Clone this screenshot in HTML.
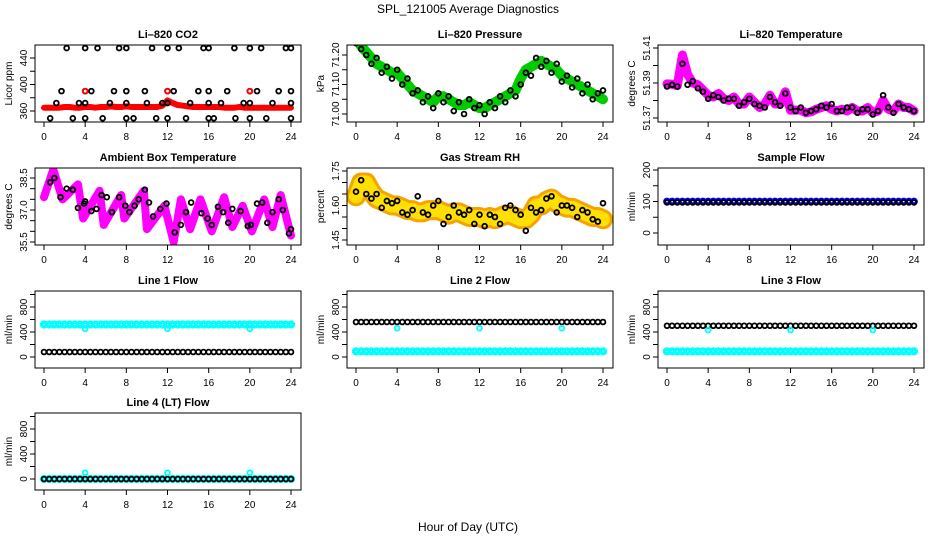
<!DOCTYPE html>
<html><head><meta charset="utf-8"><style>
body{margin:0;background:#fff;}
svg{display:block;font-family:"Liberation Sans",sans-serif;}
</style></head><body>
<svg id="c" width="936" height="540" viewBox="0 0 936 540">
<text x="468" y="13" text-anchor="middle" font-size="12">SPL_121005  Average Diagnostics</text>
<text x="468" y="531" text-anchor="middle" font-size="12">Hour of Day (UTC)</text>
</svg>
<script>
const hours=[0,0.5,1,1.5,2,2.5,3,3.5,4,4.5,5,5.5,6,6.5,7,7.5,8,8.5,9,9.5,10,10.5,11,11.5,12,12.5,13,13.5,14,14.5,15,15.5,16,16.5,17,17.5,18,18.5,19,19.5,20,20.5,21,21.5,22,22.5,23,23.5,24];
const xTicks=[0,4,8,12,16,20,24];
const co2Red=[365,365,365,365,366,366,365,365,366,366,365,366,366,367,366,366,367,366,366,366,366,366,366,368,376,372,369,368,367,366,366,366,366,366,366,365,365,365,366,365,365,365,365,365,365,365,365,365,365];
const co2PtH=[2.2,4,5.2,7.3,8,10.5,12,13.1,15.5,16,18.5,20,21.1,23.5,24,1.7,4,4.6,6.8,8,9.8,12,12.6,15,16,17.8,20,20.7,22.8,24,1.2,3.4,4,6.4,8,10,11.5,12,14.2,16,17.2,19.4,20,22.2,24,0.6,2.8,4,5.7,8,8.7,10.9,12,13.8,16,16.5,18.6,20,21.6,24];
const co2PtV=[455,455,455,455,455,455,455,455,455,455,455,455,455,455,455,390,390,390,390,390,390,390,390,390,390,390,390,390,390,390,372,372,372,372,372,372,372,372,372,372,372,372,372,372,372,349,349,349,349,349,349,349,349,349,349,349,349,349,349,349];
const co2RedPtH=[4,12,20];
const co2RedPtV=[390,390,390];
const presGreen=[71.26,71.23,71.21,71.19,71.17,71.16,71.15,71.14,71.14,71.12,71.10,71.08,71.07,71.06,71.05,71.04,71.06,71.06,71.05,71.04,71.03,71.03,71.04,71.03,71.02,71.02,71.03,71.04,71.05,71.06,71.07,71.08,71.12,71.15,71.16,71.17,71.18,71.17,71.16,71.15,71.13,71.12,71.11,71.10,71.09,71.08,71.07,71.06,71.05];
const presPts=[71.24,71.22,71.20,71.17,71.19,71.14,71.16,71.12,71.15,71.10,71.12,71.07,71.08,71.04,71.06,71.02,71.07,71.04,71.06,71.01,71.04,71.00,71.05,71.02,71.03,71.00,71.04,71.02,71.06,71.04,71.08,71.06,71.10,71.14,71.13,71.19,71.16,71.18,71.14,71.17,71.11,71.13,71.09,71.12,71.07,71.10,71.05,71.07,71.08];
const tempMag=[51.3895,51.3893,51.3885,51.4060,51.3950,51.3900,51.3890,51.3860,51.3830,51.3820,51.3840,51.3810,51.3800,51.3820,51.3780,51.3780,51.3820,51.3790,51.3760,51.3780,51.3830,51.3780,51.3780,51.3850,51.3745,51.3745,51.3745,51.3730,51.3735,51.3750,51.3760,51.3770,51.3750,51.3740,51.3750,51.3740,51.3760,51.3740,51.3740,51.3760,51.3730,51.3740,51.3800,51.3750,51.3740,51.3780,51.3760,51.3760,51.3740];
const tempPts=[51.3880,51.3890,51.3880,51.4010,51.3890,51.3910,51.3870,51.3850,51.3810,51.3830,51.3820,51.3800,51.3810,51.3810,51.3770,51.3790,51.3810,51.3780,51.3770,51.3760,51.3820,51.3790,51.3770,51.3840,51.3760,51.3740,51.3760,51.3730,51.3740,51.3750,51.3770,51.3760,51.3780,51.3740,51.3740,51.3760,51.3760,51.3730,51.3750,51.3750,51.3720,51.3740,51.3830,51.3760,51.3730,51.3780,51.3760,51.3750,51.3740];
const ambH=[0,0.9,1.8,3.3,3.8,5.4,5.8,7.5,7.8,9.7,10,11.7,12.6,13.3,14.2,15.2,16.3,17.5,18.3,19.3,20.2,21.4,22.2,23,24];
const ambV=[37.6,38.9,37.5,38.2,36.6,37.9,36.3,37.7,36.6,37.9,36.1,37.2,35.5,37.5,36.1,37.5,36.0,37.6,36.2,37.2,36.0,37.5,36.2,37.7,35.8];
const ambPtH=[0.6,1,1.6,2.2,2.8,3.3,3.9,4,4.6,5.1,5.6,6.1,6.6,7.3,7.9,8.3,8.8,9.2,9.8,10.2,10.6,11.3,11.9,12.7,13.3,13.8,14.3,15.3,15.9,16.3,16.9,17.4,17.9,18.3,19.1,19.8,20.1,20.7,21.2,21.7,22.2,22.8,23.2,23.8,24];
const ambPtV=[38.3,38.5,37.6,38.0,37.95,37.1,37.3,37.4,36.95,37.05,37.7,37.6,36.9,37.6,37.2,36.9,37.2,37.5,37.95,37.35,36.7,37.05,37.3,35.95,36.3,36.9,37.35,36.85,36.6,36.3,37.15,36.9,36.4,37.05,36.95,36.25,36.3,37.3,37.35,36.4,36.9,37.5,37.0,35.9,36.1];
const rhBand=[1.64,1.70,1.70,1.66,1.63,1.62,1.61,1.60,1.60,1.59,1.58,1.58,1.57,1.57,1.58,1.58,1.58,1.57,1.56,1.57,1.57,1.56,1.55,1.55,1.55,1.54,1.55,1.54,1.55,1.56,1.56,1.55,1.54,1.54,1.56,1.60,1.60,1.62,1.63,1.61,1.60,1.59,1.59,1.58,1.57,1.56,1.55,1.55,1.54];
const rhPts=[1.66,1.71,1.65,1.63,1.65,1.59,1.62,1.61,1.62,1.57,1.56,1.58,1.64,1.57,1.56,1.60,1.62,1.52,1.55,1.60,1.57,1.56,1.58,1.52,1.56,1.51,1.56,1.55,1.52,1.59,1.60,1.58,1.56,1.49,1.59,1.57,1.58,1.63,1.64,1.57,1.60,1.60,1.59,1.55,1.58,1.57,1.54,1.53,1.61];
const sampleBlue=[100];
const sampleBlack=[97];
const l1Cyan=[520], l1Black=[80];
const l2Black=[560], l2Cyan=[90];
const l3Black=[500], l3Cyan=[90];
const l4Black=[0], l4Cyan=[0];
const dipH=[4,12,20];
const l1Dip=[450], l2Dip=[460], l3Dip=[430], l4Dip=[100];

const svg=document.getElementById('c');
const NS='http://www.w3.org/2000/svg';
function mk(tag,attrs,parent){const e=document.createElementNS(NS,tag);for(const k in attrs)e.setAttribute(k,attrs[k]);(parent||svg).appendChild(e);return e;}
const colX=[35,347,658], rowY=[45,168,291,413], BW=266, BH=77;
function panel(c,r,o){
  const g=mk('g',{});
  
  
  const L=colX[c],T=rowY[r],B=T+BH,R=L+BW,x0=L+9;
  const sx=h=>x0+h/24*247;
  const [v1,p1,v2,p2]=o.ymap;
  const sy=v=>T+p1+(v-v1)*(p2-p1)/(v2-v1);
  const t=mk('text',{x:(L+R)/2,y:T-7,'text-anchor':'middle','font-size':11,'font-weight':'bold'},g);t.textContent=o.title;
  
  
  const yl=mk('text',{transform:`translate(${L-23},${(T+B)/2}) rotate(-90)`,'text-anchor':'middle','font-size':10},g);yl.textContent=o.ylab;
  
  
  const xa=mk('g',{},g);
  
  
  mk('line',{x1:sx(0),x2:sx(24),y1:B,y2:B,stroke:'#000'},xa);
  xTicks.forEach(h=>{mk('line',{x1:sx(h),x2:sx(h),y1:B,y2:B+5,stroke:'#000'},xa);
    const tt=mk('text',{x:sx(h),y:B+18,'text-anchor':'middle','font-size':10},xa);tt.textContent=h;});
  const ya=mk('g',{},g);
  
  
  const yt=o.yticks;
  mk('line',{x1:L,x2:L,y1:sy(yt[0]),y2:sy(yt[yt.length-1]),stroke:'#000'},ya);
  yt.forEach((v,i)=>{mk('line',{x1:L-5,x2:L,y1:sy(v),y2:sy(v),stroke:'#000'},ya);
    if(o.ylabels[i]!==''){const tt=mk('text',{transform:`translate(${L-8},${sy(v)}) rotate(-90)`,'text-anchor':'middle','font-size':10},ya);tt.textContent=o.ylabels[i];}});
  const clipId='cl'+c+r;
  const cp=mk('clipPath',{id:clipId},g);mk('rect',{x:L,y:T,width:BW,height:BH},cp);
  const plot=mk('g',{'clip-path':`url(#${clipId})`},g);
  o.draw(plot,sx,sy);
  mk('rect',{x:L,y:T,width:BW,height:BH,fill:'none',stroke:'#000'},g);
}
function band(p,sx,sy,H,V,col,w,name){const pts=H.map((h,i)=>sx(h)+','+sy(V[i])).join(' ');
  const e=mk('polyline',{points:pts,fill:'none',stroke:col,'stroke-width':w,'stroke-linejoin':'round','stroke-linecap':'round'},p);
  
  return e;}
function pts(p,sx,sy,H,V,col,name,r){const g=mk('g',{},p);
  
  
  H.forEach((h,i)=>mk('circle',{cx:sx(h),cy:sy(V[i]),r:r||2.4,fill:'none',stroke:col,'stroke-width':1.8},g));}
function level(p,sx,sy,v,col,name,w){const g=mk('g',{},p);
  
  
  hours.forEach(h=>mk('circle',{cx:sx(h),cy:sy(v),r:2.4,fill:'none',stroke:col,'stroke-width':w||1.8},g));}

panel(0,0,{name:'co2',title:'Li\u2013820 CO2',ylab:'Licor ppm',ymap:[360,66,440,13],yticks:[360,380,400,420,440],ylabels:['360','','400','','440'],
 draw:(p,sx,sy)=>{band(p,sx,sy,hours,co2Red,'#f00',6,'co2-line');pts(p,sx,sy,co2PtH,co2PtV,'#000','co2-points');pts(p,sx,sy,co2RedPtH,co2RedPtV,'#f00','co2-red-points');}});
panel(1,0,{name:'pressure',title:'Li\u2013820 Pressure',ylab:'kPa',ymap:[71.20,10,71.00,69],yticks:[71.00,71.05,71.10,71.15,71.20],ylabels:['71.00','','71.10','','71.20'],
 draw:(p,sx,sy)=>{band(p,sx,sy,hours,presGreen,'#0c0',10,'pressure-band');pts(p,sx,sy,hours,presPts,'#000','pressure-points');}});
panel(2,0,{name:'temperature',title:'Li\u2013820 Temperature',ylab:'degrees C',ymap:[51.41,3,51.37,73],yticks:[51.37,51.38,51.39,51.40,51.41],ylabels:['51.37','','51.39','','51.41'],
 draw:(p,sx,sy)=>{band(p,sx,sy,hours,tempMag,'#f0f',9,'temperature-band');pts(p,sx,sy,hours,tempPts,'#000','temperature-points');}});
panel(0,1,{name:'ambient',title:'Ambient Box Temperature',ylab:'degrees C',ymap:[38.5,10,35.5,74],yticks:[35.5,36.0,36.5,37.0,37.5,38.0,38.5],ylabels:['35.5','','','37.0','','','38.5'],
 draw:(p,sx,sy)=>{band(p,sx,sy,ambH,ambV,'#f0f',8,'ambient-band');pts(p,sx,sy,ambPtH,ambPtV,'#000','ambient-points');}});
panel(1,1,{name:'rh',title:'Gas Stream RH',ylab:'percent',ymap:[1.75,3,1.45,72],yticks:[1.45,1.50,1.55,1.60,1.65,1.70,1.75],ylabels:['1.45','','','1.60','','','1.75'],
 draw:(p,sx,sy)=>{band(p,sx,sy,hours,rhBand,'#f5a300',20,'rh-band');const y=band(p,sx,sy,hours,rhBand,'#ffe000',14,'rh-band-inner');y.setAttribute('stroke-dasharray','2 2');pts(p,sx,sy,hours,rhPts,'#000','rh-points');}});
panel(2,1,{name:'sample-flow',title:'Sample Flow',ylab:'ml/min',ymap:[200,2,0,65],yticks:[0,50,100,150,200],ylabels:['0','','100','','200'],
 draw:(p,sx,sy)=>{level(p,sx,sy,sampleBlue[0],'#00f','sample-flow-blue',3);level(p,sx,sy,sampleBlack[0],'#000','sample-flow-black');}});
const fm=[800,16,0,66], ft=[0,200,400,600,800,1000], fl=['0','','400','','800',''];
panel(0,2,{name:'line1-flow',title:'Line 1 Flow',ylab:'ml/min',ymap:fm,yticks:ft,ylabels:fl,
 draw:(p,sx,sy)=>{level(p,sx,sy,l1Cyan[0],'#0ff','line1-cyan',3.5);level(p,sx,sy,l1Black[0],'#000','line1-black');pts(p,sx,sy,dipH,[l1Dip[0],l1Dip[0],l1Dip[0]],'#0ff','line1-dips');}});
panel(1,2,{name:'line2-flow',title:'Line 2 Flow',ylab:'ml/min',ymap:fm,yticks:ft,ylabels:fl,
 draw:(p,sx,sy)=>{level(p,sx,sy,l2Cyan[0],'#0ff','line2-cyan',3.5);level(p,sx,sy,l2Black[0],'#000','line2-black');pts(p,sx,sy,dipH,[l2Dip[0],l2Dip[0],l2Dip[0]],'#0ff','line2-dips');}});
panel(2,2,{name:'line3-flow',title:'Line 3 Flow',ylab:'ml/min',ymap:fm,yticks:ft,ylabels:fl,
 draw:(p,sx,sy)=>{level(p,sx,sy,l3Cyan[0],'#0ff','line3-cyan',3.5);level(p,sx,sy,l3Black[0],'#000','line3-black');pts(p,sx,sy,dipH,[l3Dip[0],l3Dip[0],l3Dip[0]],'#0ff','line3-dips');}});
panel(0,3,{name:'line4-flow',title:'Line 4 (LT) Flow',ylab:'ml/min',ymap:fm,yticks:ft,ylabels:fl,
 draw:(p,sx,sy)=>{level(p,sx,sy,l4Cyan[0],'#0ff','line4-cyan',3.5);level(p,sx,sy,l4Black[0],'#000','line4-black');pts(p,sx,sy,dipH,[l4Dip[0],l4Dip[0],l4Dip[0]],'#0ff','line4-spikes');}});
</script>
</body></html>
